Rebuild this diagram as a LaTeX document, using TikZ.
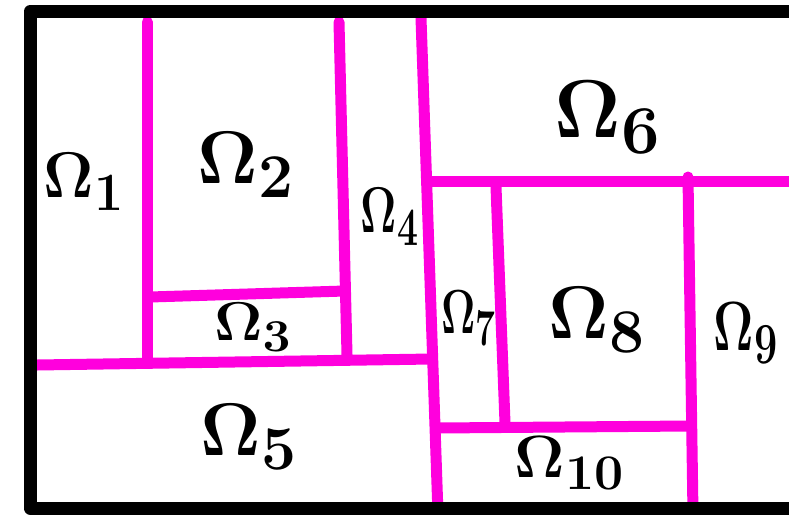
\documentclass[tikz,border=0pt]{standalone}
\usepackage{fix-cm}
\usepackage{amsmath}
\usepackage{graphicx}
\definecolor{pinkline}{RGB}{255,0,221}
\newcommand{\omlab}[3]{\scalebox{#1}[#2]{\Huge$\mathbf{\Omega}_{\mathbf{#3}}$}}
\begin{document}
\begin{tikzpicture}[x=1pt,y=-1pt,
  wall/.style={line width=11pt,draw=pinkline,line cap=round},
  frame/.style={line width=13pt,draw=black,line join=round},
  lab/.style={inner sep=0pt}]
\useasboundingbox (0,0) rectangle (789,514);
\clip (0,0) rectangle (789,514);
\fill[white] (0,0) rectangle (789,514);
% named corner points
\coordinate (v1t) at (147,22);  \coordinate (v1b) at (147,362);
\coordinate (v2t) at (339,22);  \coordinate (v2b) at (347,355);
\coordinate (v3t) at (421,18);  \coordinate (v3b) at (438,514);
\coordinate (h6l) at (427,181); \coordinate (h6r) at (800,181);
\coordinate (v4t) at (496,187); \coordinate (v4b) at (505,423);
\coordinate (v5t) at (688,177); \coordinate (v5b) at (693,514);
\coordinate (h8l) at (437,428); \coordinate (h8r) at (691,426);
\coordinate (h3l) at (150,297); \coordinate (h3r) at (345,291);
\coordinate (h5l) at (37,365);  \coordinate (h5r) at (432,359);
% pink walls
\draw[wall] (v1t) -- (v1b);
\draw[wall] (v2t) -- (v2b);
\draw[wall] (v3t) -- (v3b);
\draw[wall] (h6l) -- (h6r);
\draw[wall] (v4t) -- (v4b);
\draw[wall] (v5t) -- (v5b);
\draw[wall] (h8l) -- (h8r);
\draw[wall] (h3l) -- (h3r);
\draw[wall] (h5l) -- (h5r);
% black frame
\coordinate (fbr) at (800,508); \coordinate (fbl) at (30,508);
\coordinate (ftl) at (30,11.5); \coordinate (ftr) at (800,11.5);
\draw[frame] (fbr) -- (fbl) -- (ftl) -- (ftr);
% labels
\node[lab] (o1) at (84,182) {\omlab{2.5}{2.6}{1}};
\node[lab] (o2) at (246,165) {\omlab{3.0}{3.0}{2}};
\node[lab] (o3) at (253,327) {\omlab{2.4}{2.2}{3}};
\node[lab] (o4) at (390,217) {\omlab{1.8}{2.6}{4}};
\node[lab] (o5) at (249,437) {\omlab{3.0}{3.0}{5}};
\node[lab] (o6) at (608,117) {\omlab{3.3}{3.3}{6}};
\node[lab] (o7) at (469,318) {\omlab{1.7}{2.5}{7}};
\node[lab] (o8) at (597,320) {\omlab{3.0}{3.0}{8}};
\node[lab] (o9) at (746,333) {\omlab{2.0}{2.8}{9}};
\node[lab] (o10) at (570,463) {\omlab{2.5}{2.4}{10}};
\end{tikzpicture}
\end{document}
